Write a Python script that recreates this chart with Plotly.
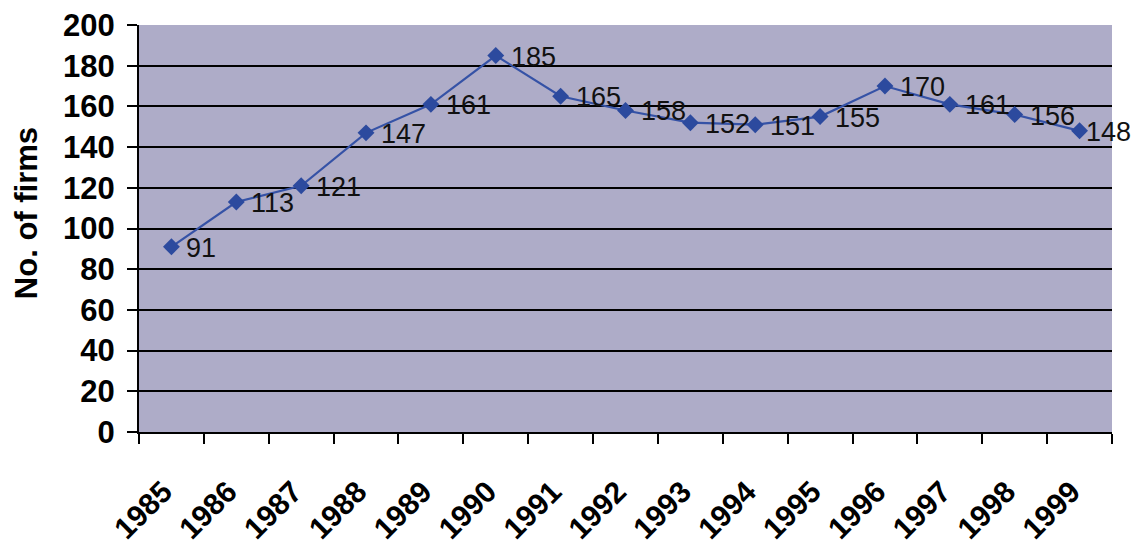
import plotly.graph_objects as go

# Number of firms per year
years = ["1985", "1986", "1987", "1988", "1989", "1990", "1991", "1992",
         "1993", "1994", "1995", "1996", "1997", "1998", "1999"]
firms = [91, 113, 121, 147, 161, 185, 165, 158, 152, 151, 155, 170, 161, 156, 148]

y_ticks = [0, 20, 40, 60, 80, 100, 120, 140, 160, 180, 200]

FONT = "Arial, Liberation Sans, sans-serif"

fig = go.Figure(
    go.Scatter(
        x=years,
        y=firms,
        mode="lines+markers",
        line=dict(color="#3552A6", width=2.2),
        marker=dict(symbol="diamond", size=13, color="#2C4A9E"),
        cliponaxis=False,
        hoverinfo="x+y",
    )
)

# Value labels placed just right of each point (x given as category index);
# the last one sits closer so it stays inside the page
last = len(firms) - 1
for i, v in enumerate(firms):
    fig.add_annotation(
        x=i,
        y=v,
        text=str(v),
        showarrow=False,
        xanchor="left",
        yanchor="middle",
        xshift=4 if i == last else 13,
        yshift=-1,
        font=dict(family=FONT, size=27, color="#111111"),
    )

fig.update_layout(
    width=1140,
    height=549,
    margin=dict(l=139, r=28, t=25, b=117),
    paper_bgcolor="white",
    plot_bgcolor="#AEACC8",
    showlegend=False,
    font=dict(family=FONT, color="black"),
)

fig.update_xaxes(
    type="category",
    range=[-0.5, len(years) - 0.5],
    automargin=False,
    tickson="boundaries",
    ticks="outside",
    ticklen=10,
    tickwidth=2,
    tickcolor="black",
    tickangle=-45,
    tickfont=dict(family=FONT, size=30, color="black", weight="bold"),
    ticklabelstandoff=28,
    ticklabelshift=-8,
    showgrid=False,
    showline=True,
    linecolor="black",
    linewidth=2,
    zeroline=False,
)

fig.update_yaxes(
    range=[0, 200],
    automargin=False,
    tickmode="array",
    tickvals=y_ticks,
    ticktext=[str(v) for v in y_ticks],
    ticks="outside",
    ticklen=10,
    tickwidth=2,
    tickcolor="black",
    tickfont=dict(family=FONT, size=31, color="black", weight="bold"),
    ticklabelstandoff=6,
    showgrid=True,
    gridcolor="black",
    gridwidth=2,
    showline=True,
    linecolor="black",
    linewidth=2,
    zeroline=False,
)

# Y-axis title
fig.add_annotation(
    text="No. of firms",
    textangle=-90,
    xref="paper",
    yref="paper",
    x=-0.116,
    y=0.538,
    xanchor="center",
    yanchor="middle",
    showarrow=False,
    font=dict(family=FONT, size=31, color="black", weight="bold"),
)

fig.write_html("out.html")
